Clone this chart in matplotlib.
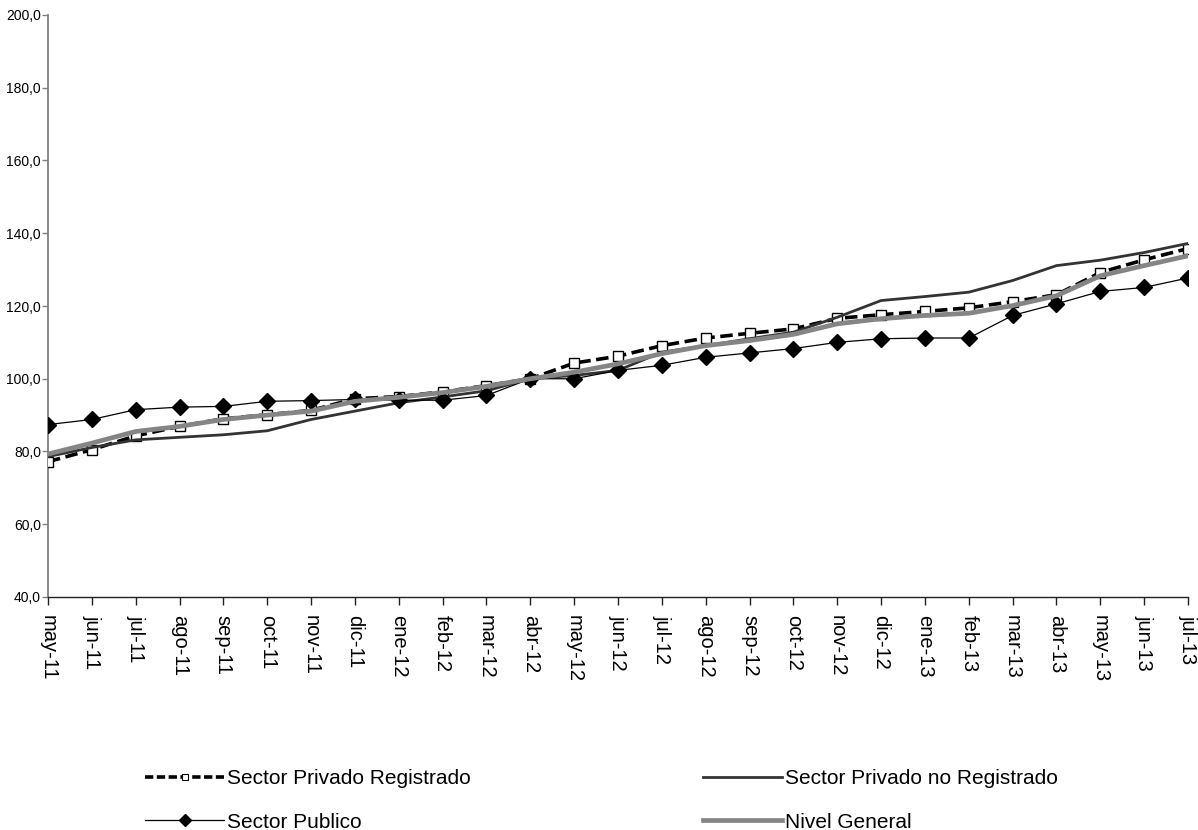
import matplotlib
matplotlib.use("Agg")
import matplotlib.pyplot as plt
from matplotlib.lines import Line2D
import numpy as np

months = ["may-11", "jun-11", "jul-11", "ago-11", "sep-11", "oct-11", "nov-11", "dic-11",
          "ene-12", "feb-12", "mar-12", "abr-12", "may-12", "jun-12", "jul-12", "ago-12",
          "sep-12", "oct-12", "nov-12", "dic-12", "ene-13", "feb-13", "mar-13", "abr-13",
          "may-13", "jun-13", "jul-13"]

privado_registrado = [77.2, 80.5, 84.3, 86.9, 89.0, 90.1, 91.3, 94.5, 95.1, 96.4, 98.1, 100.0,
                      104.3, 106.2, 109.1, 111.2, 112.5, 113.7, 116.6, 117.6, 118.5, 119.5,
                      121.2, 123.1, 129.2, 132.7, 135.8]
privado_no_registrado = [78.6, 81.1, 83.2, 83.9, 84.6, 85.7, 88.8, 91.1, 93.4, 95.0, 96.7, 100.0,
                         100.9, 102.3, 107.3, 109.1, 111.0, 112.8, 116.9, 121.5, 122.6, 123.8,
                         127.0, 131.1, 132.6, 134.7, 137.2]
sector_publico = [87.4, 88.8, 91.5, 92.2, 92.4, 93.8, 94.0, 94.3, 94.1, 94.1, 95.4, 100.0,
                  100.0, 102.3, 103.7, 105.9, 107.1, 108.3, 110.0, 111.0, 111.2, 111.2,
                  117.4, 120.6, 124.0, 125.1, 127.7]
nivel_general = [79.3, 82.3, 85.5, 86.9, 88.8, 90.0, 91.1, 93.8, 94.9, 96.2, 97.9, 100.0,
                 101.8, 104.1, 106.9, 109.1, 110.5, 112.2, 115.1, 116.5, 117.4, 118.0,
                 120.1, 122.8, 128.3, 131.1, 133.8]

y_ticks = [40, 60, 80, 100, 120, 140, 160, 180, 200]

plt.rcParams['lines.scale_dashes'] = False
plt.rcParams['font.family'] = ['Liberation Sans', 'DejaVu Sans']

W, H = 1198, 830
fig = plt.figure(figsize=(W / 100, H / 100), dpi=100)
ax = fig.add_axes([48 / W, 1 - 597 / H, (1188 - 48) / W, (597 - 15) / H])

x = np.arange(len(months))

l1, = ax.plot(x, privado_registrado, color='black', lw=2.6, dashes=(9, 4),
              marker='s', markersize=6.5, markerfacecolor='white', markeredgecolor='black',
              markeredgewidth=1.0, zorder=3)
l2, = ax.plot(x, privado_no_registrado, color='#333333', lw=2.0, zorder=4)
l3, = ax.plot(x, sector_publico, color='black', lw=0.9, marker='D', markersize=8.5,
              markerfacecolor='black', markeredgecolor='black', zorder=5)
l4, = ax.plot(x, nivel_general, color='#858585', lw=3.4, zorder=6)

ax.set_xlim(0, len(months) - 1)
ax.set_ylim(40, 200)
ax.set_yticks(y_ticks)
ax.set_yticklabels([f"{v:.1f}".replace('.', ',') for v in y_ticks],
                   fontsize=10, family=['Liberation Sans Narrow', 'Liberation Sans'])
ax.set_xticks(x)
ax.set_xticklabels(months, rotation=-90, fontsize=14.5, va='top', ha='center')

for s in ['top', 'right']:
    ax.spines[s].set_visible(False)
ax.spines['left'].set_color('#808080')
ax.spines['left'].set_linewidth(1.3)
ax.spines['bottom'].set_color('#222222')
ax.spines['bottom'].set_linewidth(1.0)
ax.tick_params(axis='y', direction='out', length=4, width=1.0, color='#808080', pad=1)
ax.tick_params(axis='x', direction='out', length=6, width=1.0, color='#222222', pad=7)

h1 = Line2D([], [], color='black', lw=2.6, dashes=(6, 2.5), marker='s', markersize=5,
            markerfacecolor='white', markeredgecolor='black', markeredgewidth=0.8)
h2 = Line2D([], [], color='#333333', lw=2.0)
h3 = Line2D([], [], color='black', lw=0.9, marker='D', markersize=6,
            markerfacecolor='black', markeredgecolor='black')
h4 = Line2D([], [], color='#858585', lw=3.4)

common = dict(frameon=False, fontsize=15, handlelength=3.8, handletextpad=0.15,
              labelspacing=1.18, borderpad=0, borderaxespad=0, loc='upper left')
fig.legend([h1, h3], ["Sector Privado Registrado", "Sector Publico"],
           bbox_to_anchor=(145 / W, 1 - 769 / H), **common)
fig.legend([h2, h4], ["Sector Privado no Registrado", "Nivel General"],
           bbox_to_anchor=(703 / W, 1 - 769 / H), **common)

fig.savefig("out.png", dpi=100)
